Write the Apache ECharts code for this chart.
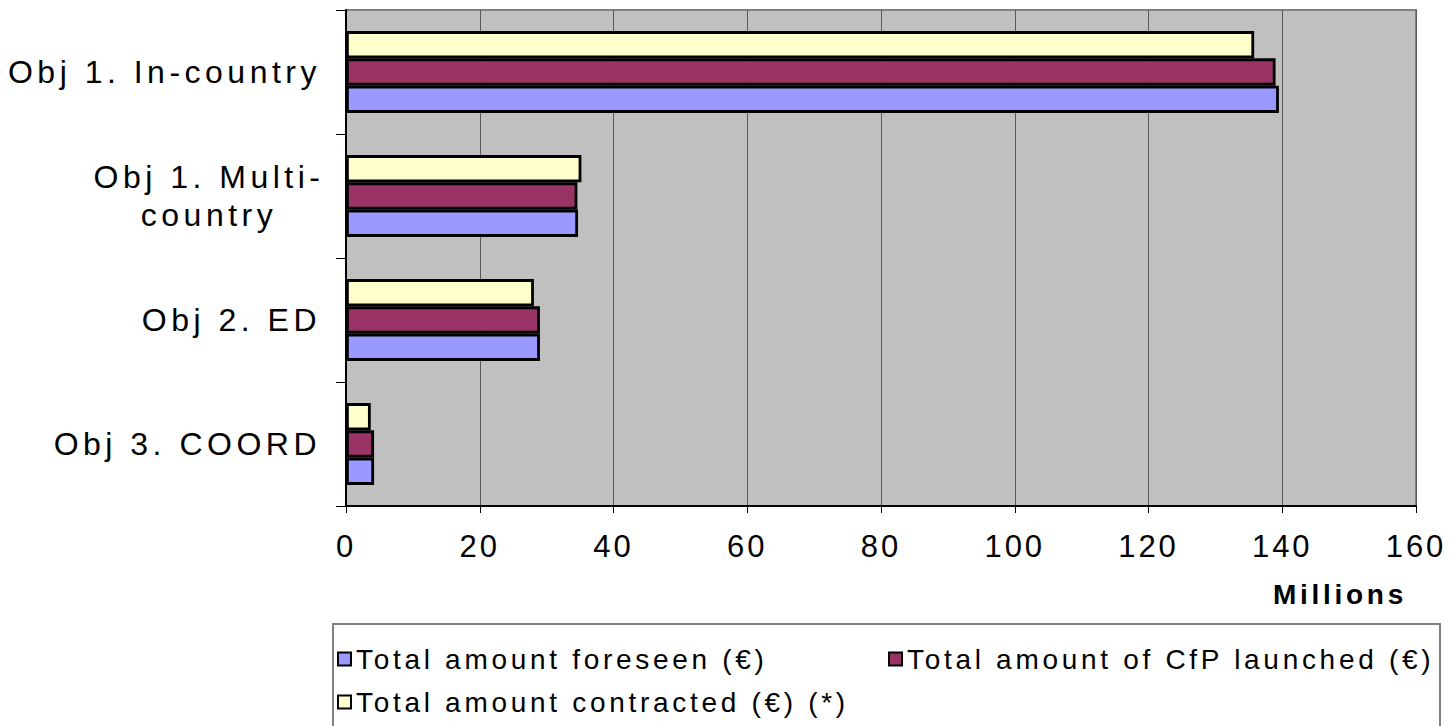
<!DOCTYPE html>
<html>
<head>
<meta charset="utf-8">
<script src="https://cdn.jsdelivr.net/npm/echarts@6/dist/echarts.min.js"></script>
<style>
html,body{margin:0;padding:0;background:#fff;}
#chart{width:1452px;height:726px;}
#chart text{letter-spacing:3px;}
#chart text[style*="32px"]{letter-spacing:4.5px;}
#chart text[style*="31px"]{letter-spacing:3px;}
#chart text[style*="28px"]{letter-spacing:3.7px;}
</style>
</head>
<body>
<div id="chart"></div>
<script>
const categories = ['Obj 1. In-country', 'Obj 1. Multi-\ncountry', 'Obj 2. ED', 'Obj 3. COORD'];
const seriesNames = ['Total amount foreseen (€)', 'Total amount of CfP launched (€)', 'Total amount contracted (€) (*)'];
const foreseen = [139.5, 34.7, 29.0, 4.2];
const cfpLaunched = [139.0, 34.6, 29.0, 4.2];
const contracted = [135.8, 35.2, 28.1, 3.7];
const xTicks = [0, 20, 40, 60, 80, 100, 120, 140, 160];
const axisUnit = 'Millions';

const colors = ['#9999FF', '#993366', '#FFFFCC'];
const values = [foreseen, cfpLaunched, contracted];
const FONT = '"Liberation Sans", Arial, sans-serif';

const chart = echarts.init(document.getElementById('chart'), null, {renderer: 'svg'});

// category axis is inverted (first category on top), so the series are
// listed last-to-first to keep "foreseen" at the bottom of each group
const series = seriesNames.map((name, i) => ({
  name: name,
  type: 'bar',
  data: values[i],
  barGap: '0%',
  barCategoryGap: '34%',
  itemStyle: {color: colors[i], borderColor: '#000', borderWidth: 2.8},
  emphasis: {disabled: true},
  animation: false
})).reverse();

function legendAt(i, left, top) {
  return {
    data: [{name: seriesNames[i], icon: 'rect'}],
    left: left, top: top,
    orient: 'horizontal',
    itemWidth: 13, itemHeight: 13,
    padding: 0,
    selectedMode: false,
    textStyle: {fontFamily: FONT, fontSize: 28, color: '#000'},
    itemStyle: {borderColor: '#000', borderWidth: 2}
  };
}

chart.setOption({
  animation: false,
  textStyle: {fontFamily: FONT},
  grid: {
    left: 346, right: 36, top: 10, bottom: 220,
    show: true, backgroundColor: '#C0C0C0', borderColor: '#808080', borderWidth: 2
  },
  xAxis: {
    type: 'value',
    min: xTicks[0], max: xTicks[xTicks.length - 1], interval: xTicks[1] - xTicks[0],
    axisLine: {show: true, lineStyle: {color: '#000', width: 2}},
    axisTick: {show: true, length: 7, lineStyle: {color: '#000', width: 1}},
    splitLine: {show: true, lineStyle: {color: '#5a5a5a', width: 1}},
    axisLabel: {fontSize: 31, color: '#000', margin: 25, fontFamily: FONT}
  },
  yAxis: {
    type: 'category',
    data: categories,
    inverse: true,
    axisLine: {show: true, lineStyle: {color: '#000', width: 2}},
    axisTick: {show: true, length: 10, lineStyle: {color: '#000', width: 1}},
    axisLabel: {
      fontSize: 32, color: '#000', margin: 25, fontFamily: FONT, lineHeight: 38,
      formatter: v => v.indexOf('\n') >= 0 ? v.split('\n').map(l => '{c|' + l + '}').join('\n') : v,
      rich: {c: {width: 224, align: 'center', fontSize: 32, lineHeight: 38, fontFamily: FONT}}
    }
  },
  legend: [legendAt(0, 337, 645), legendAt(1, 888, 645), legendAt(2, 337, 688)],
  graphic: [
    {type: 'rect', shape: {x: 333, y: 624, width: 1107, height: 110}, style: {fill: 'none', stroke: '#808080', lineWidth: 2}, silent: true},
    {type: 'text', x: 1340, y: 594, style: {text: axisUnit, fontFamily: FONT, fontSize: 28, fontWeight: 'bold', fill: '#000', align: 'center', verticalAlign: 'middle'}, silent: true}
  ],
  series: series
});
</script>
</body>
</html>
